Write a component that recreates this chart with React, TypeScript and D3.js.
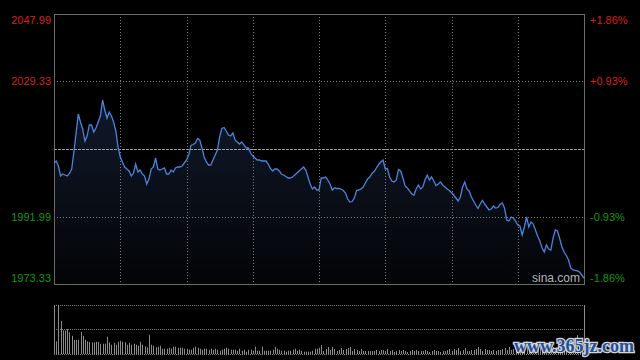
import { area, line, scaleLinear } from 'd3';

const prevClose = 2010.66;

// price per minute, 09:30 -> 15:00 (241 points)
const prices = [
  2006.79, 2007.34, 2005.96, 2003.19, 2003.75, 2003.47, 2003.19, 2003.89, 2005.13, 2009.83,
  2015.08, 2020.34, 2018.13, 2016.19, 2012.87, 2014.25, 2017.3, 2017.3, 2015.36, 2016.47,
  2018.13, 2019.78, 2024.21, 2021.44, 2019.23, 2020.89, 2019.78, 2018.13, 2015.64, 2011.21,
  2008.45, 2007.07, 2005.68, 2005.13, 2004.58, 2003.19, 2004.02, 2006.51, 2004.3, 2004.85,
  2003.75, 2003.19, 2000.98, 2002.36, 2005.13, 2005.68, 2008.17, 2005.13, 2004.85, 2005.13,
  2005.41, 2003.75, 2003.75, 2004.85, 2004.3, 2005.41, 2005.68, 2005.68, 2005.96, 2006.79,
  2007.62, 2009.0, 2011.63, 2011.9, 2012.32, 2013.56, 2013.15, 2010.94, 2008.45, 2007.07,
  2006.24, 2006.24, 2007.62, 2009.0, 2010.38, 2013.98, 2016.33, 2016.6, 2015.64, 2014.53,
  2014.25, 2015.08, 2013.15, 2012.6, 2012.04, 2012.6, 2011.77, 2010.94, 2010.94, 2009.55,
  2008.72, 2008.17, 2007.62, 2007.62, 2007.34, 2007.34, 2007.34, 2006.51, 2005.27, 2004.58,
  2005.13, 2005.13, 2004.58, 2003.75, 2003.47, 2003.06, 2002.64, 2002.64, 2002.92, 2003.47,
  2004.02, 2004.58, 2005.13, 2005.68, 2004.85, 2002.92, 2000.98, 1999.6, 2000.15, 1999.32,
  1999.32, 2002.64, 2002.64, 2002.92, 2002.09, 2000.98, 1999.32, 1999.88, 1999.74, 1999.74,
  1999.6, 1999.19, 1998.49, 1996.83, 1996.0, 1996.14, 1997.11, 1999.19, 1999.32, 1999.6,
  2000.15, 2001.26, 2002.36, 2002.92, 2003.89, 2004.44, 2005.41, 2006.37, 2007.07, 2007.62,
  2005.13, 2005.27, 2002.92, 2001.81, 2001.54, 2002.09, 2004.99, 2004.58, 2002.64, 2000.43,
  1999.88, 1999.05, 1998.22, 1997.94, 1999.6, 2000.71, 1999.6, 2000.15, 2002.09, 2003.47,
  2002.09, 2002.92, 2001.81, 2000.57, 2000.98, 2001.54, 2000.71, 2000.15, 1999.6, 1999.19,
  1998.63, 1997.94, 1997.11, 1996.28, 1997.39, 2000.15, 2001.54, 1999.6, 1999.05, 1997.39,
  1996.28, 1995.18, 1994.21, 1995.45, 1996.42, 1995.45, 1994.62, 1993.79, 1994.07, 1994.9,
  1994.35, 1994.48, 1995.31, 1995.73, 1994.35, 1991.03, 1990.75, 1991.86, 1991.58, 1990.75,
  1989.65, 1989.37, 1986.88, 1989.09, 1991.86, 1989.09, 1990.48, 1989.92, 1988.26, 1986.6,
  1985.22, 1983.29, 1982.18, 1984.12, 1983.01, 1982.73, 1986.05, 1988.26, 1987.99, 1985.91,
  1983.56, 1982.18, 1981.21, 1979.97, 1977.76, 1977.2, 1977.07, 1976.93, 1976.65, 1975.82,
  1974.99,
];

// volume per minute (arbitrary units)
const volumes = [
  100, 127, 493, 333, 237, 237, 250, 217, 183, 143,
  143, 143, 223, 183, 143, 127, 120, 117, 117, 123,
  123, 103, 103, 103, 173, 117, 93, 113, 93, 123,
  133, 123, 117, 93, 113, 93, 103, 93, 83, 123,
  93, 77, 67, 193, 93, 83, 67, 73, 83, 53,
  53, 53, 63, 53, 73, 73, 63, 63, 63, 53,
  53, 43, 43, 63, 73, 63, 53, 43, 53, 53,
  43, 53, 43, 53, 43, 33, 43, 53, 63, 53,
  43, 43, 43, 33, 53, 33, 43, 23, 43, 43,
  33, 73, 33, 33, 73, 33, 33, 33, 33, 43,
  73, 53, 43, 33, 33, 23, 33, 33, 43, 53,
  33, 43, 33, 23, 23, 23, 23, 33, 53, 53,
  63,
  90, 30, 50, 70, 40, 70, 50, 30, 40, 60,
  40, 50, 60, 70, 30, 50, 40, 30, 50, 30,
  30, 30, 30, 30, 30, 40, 30, 40, 40, 30,
  50, 30, 40, 20, 30, 40, 30, 40, 30, 20,
  30, 40, 30, 40, 30, 30, 30, 40, 30, 20,
  30, 40, 30, 30, 20, 30, 30, 40, 50, 30,
  50, 40, 60, 30, 40, 60, 30, 30, 40, 40,
  50, 70, 50, 30, 50, 40, 40, 30, 40, 30,
  40, 40, 50, 60, 40, 70, 40, 50,
  40, 50, 60, 40, 50, 70, 50, 60, 40, 50,
  60, 70, 50, 60, 80, 60, 50, 70, 60, 80,
  70, 60, 90, 70, 80, 60, 70, 90, 190, 80,
  120, 260,
];

const priceTicks = [2047.99, 2029.33, 2010.66, 1991.99, 1973.33];
const pctTicks = ['+1.86%', '+0.93%', '', '-0.93%', '-1.86%'];
const timeGrid = [30, 60, 90, 120, 150, 180, 210];

const W = 640;
const H = 360;
const left = 54;
const right = 584;
const top = 14;
const bottom = 284;
const volTop = 305;
const volBottom = 354;

const font = '"Liberation Sans", Arial, sans-serif';
const red = '#d81e1e';
const green = '#0c9a0c';

export default function App() {
  const x = scaleLinear().domain([0, 240]).range([left, right]);
  const y = scaleLinear().domain([1973.33, 2047.99]).range([bottom, top]);
  const yv = scaleLinear()
    .domain([0, Math.max(...volumes)])
    .range([volBottom, volTop]);

  const px = (v: number) => Math.round(v) + 0.5;

  const linePath = line<number>()
    .x((_, i) => x(i))
    .y((d) => y(d))(prices)!;
  const areaPath = area<number>()
    .x((_, i) => x(i))
    .y0(bottom)
    .y1((d) => y(d))(prices)!;

  return (
    <svg
      width={W}
      height={H}
      style={{ position: 'fixed', left: 0, top: 0, display: 'block' }}
    >
      <defs>
        <linearGradient id="fillGrad" gradientUnits="userSpaceOnUse" x1="0" y1={top} x2="0" y2={bottom}>
          <stop offset="0" stopColor="#16233c" />
          <stop offset="1" stopColor="#030406" />
        </linearGradient>
      </defs>
      <rect x={0} y={0} width={W} height={H} fill="#000" />

      {/* price area */}
      <path d={areaPath} fill="url(#fillGrad)" />

      {/* grid */}
      {timeGrid.map((t) => (
        <line
          key={t}
          x1={px(x(t))}
          x2={px(x(t))}
          y1={top}
          y2={bottom}
          stroke="#808080"
          strokeDasharray="1,2"
        />
      ))}
      {priceTicks.map((p, i) =>
        i === 0 || i === 4 ? null : (
          <line
            key={p}
            x1={left}
            x2={right}
            y1={px(y(p))}
            y2={px(y(p))}
            stroke={i === 2 ? '#a0a0a0' : '#808080'}
            strokeDasharray={i === 2 ? '3,1' : '1,2'}
          />
        )
      )}

      {/* frame */}
      <rect
        x={left + 0.5}
        y={top + 0.5}
        width={right - left}
        height={bottom - top}
        fill="none"
        stroke="#6a6a6a"
      />

      {/* price line */}
      <path d={linePath} fill="none" stroke="#4a84dc" strokeWidth={1.3} />

      {/* labels */}
      {priceTicks.map((p, i) => {
        const ty = i === 0 ? y(p) + 6 : i === 4 ? y(p) - 6 : y(p);
        const col = i < 2 ? red : green;
        if (i === 2) return null;
        return (
          <g key={p} fontFamily={font} fontSize={11} fill={col}>
            <text x={51} y={ty} textAnchor="end" dominantBaseline="central">
              {p.toFixed(2)}
            </text>
            <text x={590} y={ty} textAnchor="start" dominantBaseline="central">
              {pctTicks[i]}
            </text>
          </g>
        );
      })}

      <text x={532} y={282} fontFamily={font} fontSize={12} fill="#b4b4b4">
        sina.com
      </text>

      {/* volume panel */}
      {[volTop, (volTop + volBottom) / 2, volBottom].map((vy) => (
        <line
          key={vy}
          x1={left}
          x2={right}
          y1={Math.floor(vy) + 0.5}
          y2={Math.floor(vy) + 0.5}
          stroke="#808080"
          strokeDasharray="1,1"
        />
      ))}
      {volumes.map((v, i) => (
        <line
          key={i}
          x1={px(x(i))}
          x2={px(x(i))}
          y1={volBottom}
          y2={yv(v)}
          stroke="#8c8c8c"
        />
      ))}
      <line x1={left + 0.5} x2={left + 0.5} y1={volTop} y2={volBottom} stroke="#8c8c8c" />
      <line x1={right + 0.5} x2={right + 0.5} y1={volTop} y2={volBottom} stroke="#8c8c8c" />

      <text
        x={634}
        y={352}
        textAnchor="end"
        fontFamily='"Liberation Serif", serif'
        fontWeight="bold"
        fontSize={18}
        fill="#1f4f9c"
        stroke="#d6d6d6"
        strokeWidth={2.5}
        paintOrder="stroke"
      >
        www.365jz.com
      </text>
    </svg>
  );
}
